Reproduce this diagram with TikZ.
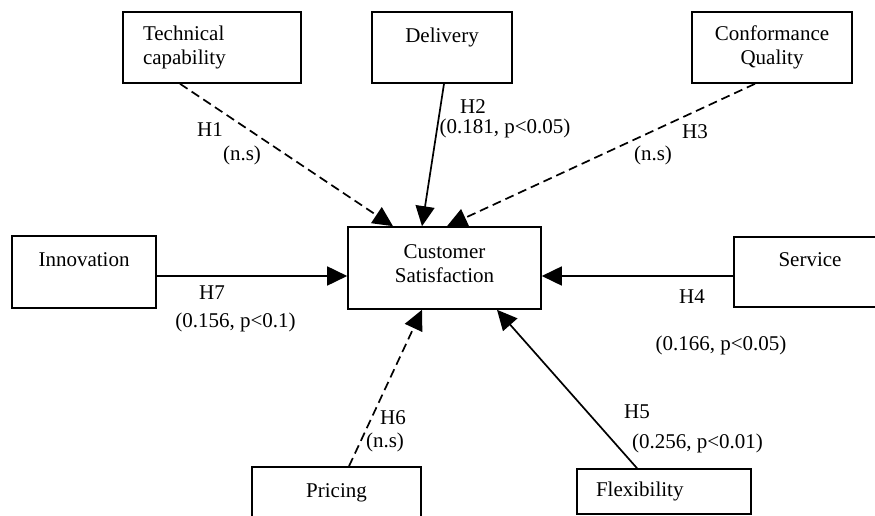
\documentclass[tikz,border=0pt]{standalone}
\usepackage{fontspec}
\setmainfont{Liberation Serif}
\usetikzlibrary{arrows.meta}

\begin{document}
\begin{tikzpicture}[x=1pt, y=-1pt,
    every node/.style={font=\fontsize{21pt}{24pt}\selectfont, inner sep=0pt},
    factor/.style={draw, line width=1.6pt, align=center},
    sig/.style={line width=1.7pt, -{Triangle[length=20pt, width=19pt]}},
    nonsig/.style={sig, dash pattern=on 9pt off 5pt}]
    \useasboundingbox (0,0) rectangle (875,516);
    \clip (0,0) rectangle (875,516);

    % Factors on top
    \node[factor, minimum width=178pt, minimum height=71pt, text width=138pt, align=left] (tech) at (212,47.5) {Technical\\capability};
    \node[factor, minimum width=140pt, minimum height=71pt] (deliv) at (442,47.5) {Delivery\\~};
    \node[factor, minimum width=160pt, minimum height=71pt] (conf) at (772,47.5) {Conformance\\Quality};

    % Factors at the sides
    \node[factor, minimum width=144pt, minimum height=72pt] (innov) at (84,272) {Innovation\\~};
    \node[factor, minimum width=152pt, minimum height=70pt] (serv) at (810,272) {Service\\~};

    % Factors at the bottom
    \node[factor, minimum width=169pt, minimum height=72pt] (pric) at (336.5,503) {Pricing\\~};
    \node[factor, minimum width=174pt, minimum height=45pt, text width=136pt, align=left] (flex) at (664,491.5) {Flexibility};

    % Customer satisfaction
    \node[factor, minimum width=193pt, minimum height=82pt] (cs) at (444.5,268) {Customer\\Satisfaction\\[-16pt]~};

    % Arrows into customer satisfaction
    \draw[nonsig] ([xshift=-32pt]tech.south) -- ([xshift=-51.5pt]cs.north);
    \draw[sig] ([xshift=2pt]deliv.south) -- ([xshift=-22.5pt]cs.north);
    \draw[nonsig] ([xshift=-17pt]conf.south) -- ([xshift=2.5pt]cs.north);
    \draw[sig] ([yshift=-4pt]innov.east) -- ([yshift=-8pt]cs.west);
    \draw[sig] ([yshift=-4pt]serv.west) -- ([yshift=-8pt]cs.east);
    \draw[nonsig] ([xshift=12.5pt]pric.north) -- ([xshift=-22.5pt]cs.south);
    \draw[sig] ([xshift=-27pt]flex.north) -- ([xshift=52.5pt]cs.south);

    % Hypotheses
    \node (h1) at (210,130) {H1};
    \node (h1v) at (242,155) {(n.s)};
    \node (h2) at (473,107) {H2};
    \node (h2v) at (505,128) {(0.181, p<0.05)};
    \node (h3) at (695,132) {H3};
    \node (h3v) at (653,155) {(n.s)};
    \node (h4) at (692,297) {H4};
    \node (h4v) at (721,345) {(0.166, p<0.05)};
    \node (h5) at (637,412) {H5};
    \node (h5v) at (697.5,443) {(0.256, p<0.01)};
    \node (h6) at (393,418) {H6};
    \node (h6v) at (385,442) {(n.s)};
    \node (h7) at (212,293) {H7};
    \node (h7v) at (235.5,322) {(0.156, p<0.1)};
\end{tikzpicture}
\end{document}
